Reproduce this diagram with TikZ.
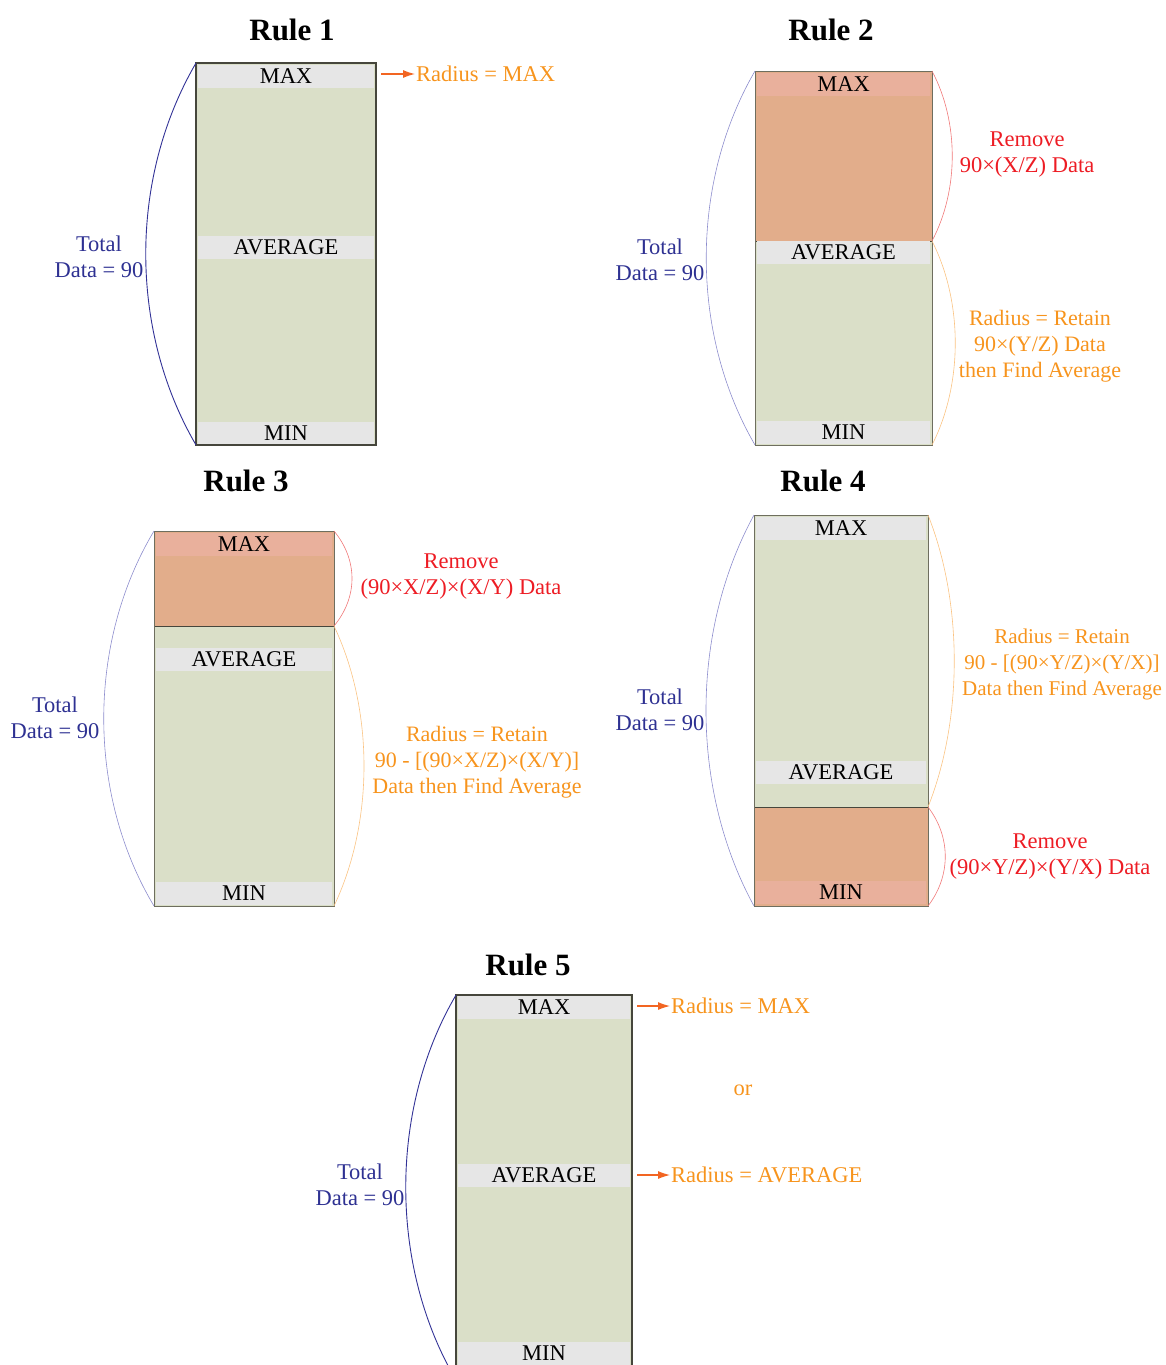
\documentclass[tikz,border=0pt]{standalone}
\usepackage{fontspec}
\setmainfont{Liberation Serif}
\usetikzlibrary{arrows.meta}
\definecolor{boxgreen}{RGB}{218,223,200}
\definecolor{bandgray}{RGB}{230,230,230}
\definecolor{remfill}{RGB}{226,173,139}
\definecolor{pinkband}{RGB}{233,176,156}
\definecolor{boxline}{RGB}{70,70,60}
\definecolor{boxlinel}{RGB}{110,110,95}
\definecolor{bluetxt}{RGB}{46,49,146}
\definecolor{bluearc}{RGB}{50,50,150}
\definecolor{bluelight}{RGB}{140,140,205}
\definecolor{redtxt}{RGB}{237,28,36}
\definecolor{redarc}{RGB}{240,120,120}
\definecolor{orgtxt}{RGB}{247,148,29}
\definecolor{orgarc}{RGB}{250,195,130}
\definecolor{arrorg}{RGB}{242,101,34}
\newcommand\arcconn[5]{\draw[#1] (#2) .. controls +(#4,#5) and +(#4,-#5) .. (#3);}
\begin{document}
\begin{tikzpicture}[x=1pt,y=-1pt,
  box/.style={fill=boxgreen, draw=none, inner sep=0pt, outer sep=0pt, anchor=north west},
  band/.style={fill=bandgray, inner sep=0pt, minimum height=23pt, font=\fontsize{22.5}{26}\selectfont},
  pband/.style={band, fill=pinkband},
  title/.style={font=\fontsize{31}{36}\selectfont\bfseries},
  lab/.style={font=\fontsize{22.5}{26}\selectfont, align=center, inner sep=1pt},
  bluelab/.style={lab, text=bluetxt},
  redlab/.style={lab, text=redtxt},
  orglab/.style={lab, text=orgtxt},
  border/.style={draw=boxline, line width=1.1pt},
  lborder/.style={draw=boxlinel, line width=0.9pt},
  darc/.style={draw=bluearc, line width=0.9pt},
  larc/.style={draw=bluelight, line width=0.6pt},
  rarc/.style={draw=redarc, line width=0.6pt},
  oarc/.style={draw=orgarc, line width=0.6pt},
  arr/.style={draw=arrorg, line width=1.1pt, -{Latex[length=12pt,width=8pt]}}
]
\useasboundingbox (0,0) rectangle (1166,1365);
\clip (0,0) rectangle (1166,1365);

% ---------------- Rule 1 ----------------
\node[title] (t1) at (292,30) {Rule 1};
\node[box, minimum width=180pt, minimum height=382pt] (B1) at (196,63) {};
\node[band, minimum width=176pt] (b1max) at (286,76) {MAX};
\node[band, minimum width=176pt] (b1avg) at (286,247.5) {AVERAGE};
\node[band, minimum width=176pt] (b1min) at (286,433) {MIN};
\draw[border] (B1.north west) rectangle (B1.south east);
\arcconn{darc}{B1.north west}{B1.south west}{-67}{115}
\node[bluelab] (tot1) at (99,257) {Total\\Data = 90};
\coordinate (a1) at (381,74);
\node[orglab, anchor=west] (r1) at (415,74) {Radius = MAX};
\draw[arr] (a1) -- (r1.west);

% ---------------- Rule 2 ----------------
\node[title] (t2) at (831,30) {Rule 2};
\node[box, minimum width=177pt, minimum height=374pt] (B2) at (755,71) {};
\coordinate (B2r) at (932,241);
\filldraw[fill=remfill, draw=boxline, line width=0.6pt] (B2.north west) rectangle (B2r);
\node[pband, minimum width=173pt] (b2max) at (843.5,84) {MAX};
\node[band, minimum width=173pt] (b2avg) at (843.5,252.5) {AVERAGE};
\node[band, minimum width=173pt] (b2min) at (843.5,432.5) {MIN};
\draw[lborder] (B2.north west) rectangle (B2.south east);
\arcconn{larc}{B2.north west}{B2.south west}{-65}{112}
\arcconn{rarc}{B2.north east}{B2r}{27}{51}
\arcconn{oarc}{B2r}{B2.south east}{31}{61}
\node[bluelab] (tot2) at (660,260) {Total\\Data = 90};
\node[redlab] (rem2) at (1027,155) {Remove\\90×(X/Z) Data};
\node[orglab, font=\fontsize{22}{26}\selectfont] (ret2) at (1040,346) {Radius = Retain\\90×(Y/Z) Data\\then Find Average};

% ---------------- Rule 3 ----------------
\node[title] (t3) at (246,481) {Rule 3};
\node[box, minimum width=180pt, minimum height=375pt] (B3) at (154,531) {};
\coordinate (B3r) at (334,626);
\filldraw[fill=remfill, draw=boxline, line width=0.6pt] (B3.north west) rectangle (B3r);
\node[pband, minimum width=176pt] (b3max) at (244,544) {MAX};
\node[band, minimum width=176pt] (b3avg) at (244,659.5) {AVERAGE};
\node[band, minimum width=176pt] (b3min) at (244,893) {MIN};
\draw[lborder] (B3.north west) rectangle (B3.south east);
\arcconn{larc}{B3.north west}{B3.south west}{-67}{112}
\arcconn{rarc}{B3.north east}{B3r}{24}{29}
\arcconn{oarc}{B3r}{B3.south east}{40}{84}
\node[bluelab] (tot3) at (55,718) {Total\\Data = 90};
\node[redlab] (rem3) at (461,577) {Remove\\(90×X/Z)×(X/Y) Data};
\node[orglab, font=\fontsize{22}{26}\selectfont] (ret3) at (477,762) {Radius = Retain\\90 - [(90×X/Z)×(X/Y)]\\Data then Find Average};

% ---------------- Rule 4 ----------------
\node[title] (t4) at (823,481) {Rule 4};
\node[box, minimum width=174pt, minimum height=391pt] (B4) at (754,515) {};
\coordinate (B4r) at (928,807);
\coordinate (B4l) at (754,807);
\filldraw[fill=remfill, draw=boxline, line width=0.6pt] (B4l) rectangle (B4.south east);
\node[band, minimum width=170pt] (b4max) at (841,528) {MAX};
\node[band, minimum width=170pt] (b4avg) at (841,772) {AVERAGE};
\node[pband, minimum width=170pt] (b4min) at (841,892) {MIN};
\draw[lborder] (B4.north west) rectangle (B4.south east);
\arcconn{larc}{B4.north west}{B4.south west}{-64}{117}
\arcconn{oarc}{B4.north east}{B4r}{35}{88}
\arcconn{rarc}{B4r}{B4.south east}{23}{30}
\node[bluelab] (tot4) at (660,710) {Total\\Data = 90};
\node[orglab, font=\fontsize{21}{26}\selectfont] (ret4) at (1062,664) {Radius = Retain\\90 - [(90×Y/Z)×(Y/X)]\\Data then Find Average};
\node[redlab] (rem4) at (1050,857) {Remove\\(90×Y/Z)×(Y/X) Data};

% ---------------- Rule 5 ----------------
\node[title] (t5) at (528,965) {Rule 5};
\node[box, minimum width=176pt, minimum height=385pt] (B5) at (456,995) {};
\node[band, minimum width=172pt] (b5max) at (544,1007.5) {MAX};
\node[band, minimum width=172pt] (b5avg) at (544,1175.5) {AVERAGE};
\node[band, minimum width=172pt] (b5min) at (544,1353) {MIN};
\draw[border] (B5.north west) rectangle (B5.south east);
\arcconn{darc}{B5.north west}{B5.south west}{-67}{114}
\node[bluelab] (tot5) at (360,1185) {Total\\Data = 90};
\coordinate (a5a) at (637,1006);
\coordinate (a5b) at (637,1175);
\node[orglab, anchor=west] (r5a) at (670,1006) {Radius = MAX};
\node[orglab] (or5) at (743,1090) {or};
\node[orglab, anchor=west] (r5b) at (670,1175) {Radius = AVERAGE};
\draw[arr] (a5a) -- (r5a.west);
\draw[arr] (a5b) -- (r5b.west);
\end{tikzpicture}
\end{document}
